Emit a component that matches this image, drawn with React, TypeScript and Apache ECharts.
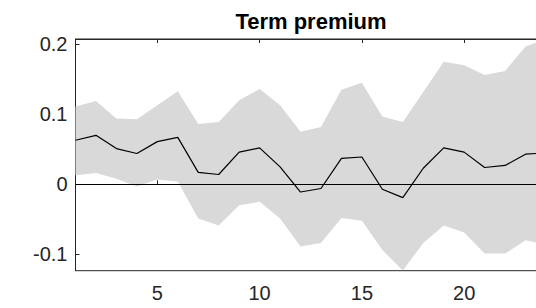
import React, { useEffect, useRef } from "react";
import * as echarts from "echarts";

const steps = [1, 2, 3, 4, 5, 6, 7, 8, 9, 10, 11, 12, 13, 14, 15, 16, 17, 18, 19, 20, 21, 22, 23, 24];
const irf = [0.063, 0.070, 0.051, 0.044, 0.061, 0.067, 0.017, 0.014, 0.046, 0.052, 0.025, -0.011, -0.006, 0.037, 0.039, -0.007, -0.019, 0.023, 0.052, 0.046, 0.024, 0.027, 0.043, 0.045];
const upper = [0.111, 0.119, 0.094, 0.093, 0.113, 0.133, 0.086, 0.089, 0.120, 0.136, 0.113, 0.075, 0.082, 0.135, 0.145, 0.097, 0.089, 0.132, 0.175, 0.170, 0.156, 0.162, 0.197, 0.207];
const lower = [0.013, 0.016, 0.008, -0.003, 0.007, 0.004, -0.049, -0.059, -0.030, -0.025, -0.049, -0.089, -0.084, -0.048, -0.052, -0.094, -0.123, -0.084, -0.059, -0.069, -0.099, -0.099, -0.080, -0.086];
const xTicks = [5, 10, 15, 20];
const yTicks = [-0.1, 0, 0.1, 0.2];
const titleText = "Term premium";

const FONT = "'Liberation Sans', Arial, Helvetica, sans-serif";
const AXIS = "#262626";

export default function App() {
  const ref = useRef<HTMLDivElement>(null);
  useEffect(() => {
    if (!ref.current) return;
    const chart = echarts.init(ref.current, null, { renderer: "svg" });
    const lineData = steps.map((s, i) => [s, irf[i]]);
    chart.setOption({
      animation: false,
      backgroundColor: "#ffffff",
      title: {
        text: titleText,
        left: 311,
        top: 10,
        padding: 0,
        textAlign: "center",
        textStyle: { fontSize: 22, fontWeight: "bold", fontFamily: FONT, color: "#000" },
      },
      grid: {
        left: 75.5,
        right: -10,
        top: 39,
        bottom: 37.3,
        show: true,
        borderColor: AXIS,
        borderWidth: 1,
        backgroundColor: "transparent",
        outerBoundsMode: "none",
        containLabel: false,
      },
      xAxis: [
        {
          type: "value",
          min: 1,
          max: 24,
          position: "bottom",
          axisLine: { show: true, lineStyle: { color: AXIS, width: 1 } },
          axisTick: { show: true, inside: true, length: 4, lineStyle: { color: AXIS }, customValues: xTicks },
          axisLabel: { show: true, margin: 12, fontSize: 20, fontFamily: FONT, color: AXIS, customValues: xTicks },
          splitLine: { show: false },
        },
        {
          type: "value",
          min: 1,
          max: 24,
          position: "top",
          axisLine: { show: true, lineStyle: { color: AXIS, width: 1 } },
          axisTick: { show: true, inside: true, length: 4, lineStyle: { color: AXIS }, customValues: xTicks },
          axisLabel: { show: false },
          splitLine: { show: false },
        },
      ],
      yAxis: {
        type: "value",
        min: -0.1234,
        max: 0.2076,
        axisLine: { show: true, lineStyle: { color: AXIS, width: 1 } },
        axisTick: { show: true, inside: true, length: 4, lineStyle: { color: AXIS }, customValues: yTicks },
        axisLabel: {
          show: true,
          margin: 8,
          fontSize: 20,
          fontFamily: FONT,
          color: AXIS,
          customValues: yTicks,
          formatter: (v: number) => (Math.abs(v) < 1e-9 ? "0" : String(Math.round(v * 10) / 10)),
        },
        splitLine: { show: false },
      },
      series: [
        {
          type: "custom",
          xAxisIndex: 0,
          yAxisIndex: 0,
          silent: true,
          z: 1,
          data: [0],
          renderItem: (_params: any, api: any) => {
            const pts: number[][] = [];
            for (let i = 0; i < steps.length; i++) pts.push(api.coord([steps[i], upper[i]]));
            for (let i = steps.length - 1; i >= 0; i--) pts.push(api.coord([steps[i], lower[i]]));
            return {
              type: "polygon",
              shape: { points: pts },
              style: { fill: "#d9d9d9", stroke: "none" },
            };
          },
        },
        {
          type: "line",
          data: lineData,
          symbol: "none",
          lineStyle: { color: "#000", width: 1.2 },
          z: 3,
          markLine: {
            silent: true,
            symbol: "none",
            label: { show: false },
            lineStyle: { color: "#000", width: 1.2, type: "solid" },
            data: [{ yAxis: 0 }],
          },
        },
      ],
    });
    return () => chart.dispose();
  }, []);
  return (
    <div
      ref={ref}
      style={{ position: "fixed", left: 0, top: 0, width: 536, height: 308 }}
    />
  );
}
